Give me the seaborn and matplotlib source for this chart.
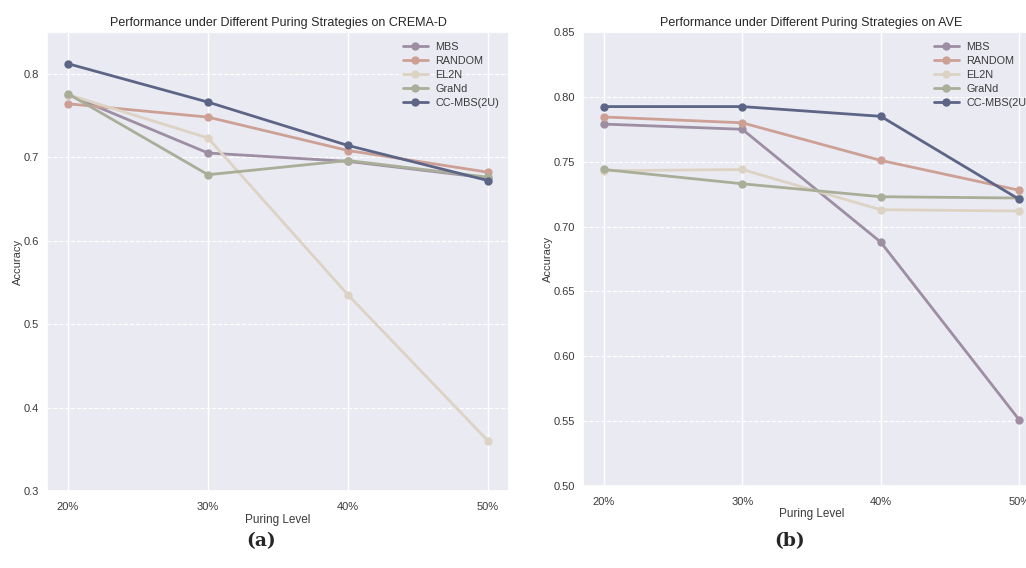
import matplotlib.pyplot as plt
import pandas as pd
import seaborn as sns

levels = ["20%", "30%", "40%", "50%"]
methods = ["MBS", "RANDOM", "EL2N", "GraNd", "CC-MBS(2U)"]

# CREMA-D accuracies
crema_mbs = [0.775, 0.705, 0.695, 0.675]
crema_random = [0.764, 0.748, 0.708, 0.682]
crema_el2n = [0.775, 0.723, 0.535, 0.360]
crema_grand = [0.776, 0.679, 0.696, 0.676]
crema_ccmbs = [0.812, 0.766, 0.714, 0.672]

# AVE accuracies
ave_mbs = [0.779, 0.775, 0.688, 0.551]
ave_random = [0.7845, 0.780, 0.751, 0.728]
ave_el2n = [0.743, 0.744, 0.713, 0.712]
ave_grand = [0.744, 0.733, 0.723, 0.722]
ave_ccmbs = [0.7925, 0.7925, 0.785, 0.721]

colors = ["#9d8ea4", "#cda096", "#ddd3c4", "#aaae98", "#5d6586"]


def to_long(series):
    rows = []
    for name, vals in zip(methods, series):
        for lvl, v in zip(levels, vals):
            rows.append({"Puring Level": lvl, "Accuracy": v, "Method": name})
    return pd.DataFrame(rows)


def draw(ax, df, title, ylim, yticks, fmt):
    sns.lineplot(data=df, x="Puring Level", y="Accuracy", hue="Method",
                 palette=colors, marker="o", markersize=6, markeredgewidth=0,
                 linewidth=2, sort=False, ax=ax)
    ax.set_title(title, fontsize=9, pad=4)
    ax.set_ylim(*ylim)
    ax.set_yticks(yticks)
    ax.set_yticklabels([fmt.format(t) for t in yticks])
    ax.set_xlim(-0.15, 3.15)
    ax.tick_params(labelsize=8, labelcolor="#3a3a3a", length=0)
    ax.tick_params(axis="x", pad=8)
    ax.tick_params(axis="y", pad=6)
    ax.set_xlabel("Puring Level", fontsize=8.5, labelpad=1, color="#3a3a3a")
    ax.set_ylabel("Accuracy", fontsize=8, labelpad=0, color="#3a3a3a")
    ax.yaxis.grid(True, linestyle="--", linewidth=0.8)
    ax.xaxis.grid(True, linestyle="-", linewidth=1.0)
    ax.legend(loc="upper right", frameon=False, fontsize=7.8, title=None,
              handlelength=2.3, labelspacing=0.38, borderaxespad=0.5,
              handletextpad=0.7, labelcolor="#3a3a3a")


sns.set_theme(style="darkgrid")
plt.rcParams["font.family"] = ["Liberation Sans", "DejaVu Sans"]

fig = plt.figure(figsize=(10.26, 5.68), dpi=100)
W, H = 1026, 568
ax1 = fig.add_axes([47 / W, (H - 491) / H, (509 - 47) / W, (491 - 32) / H])
ax2 = fig.add_axes([583 / W, (H - 486) / H, (1040 - 583) / W, (486 - 32) / H])

draw(ax1, to_long([crema_mbs, crema_random, crema_el2n, crema_grand, crema_ccmbs]),
     "Performance under Different Puring Strategies on CREMA-D",
     (0.3, 0.85), [0.3, 0.4, 0.5, 0.6, 0.7, 0.8], "{:.1f}")
draw(ax2, to_long([ave_mbs, ave_random, ave_el2n, ave_grand, ave_ccmbs]),
     "Performance under Different Puring Strategies on AVE",
     (0.5, 0.85), [0.50, 0.55, 0.60, 0.65, 0.70, 0.75, 0.80, 0.85], "{:.2f}")

fig.text(261 / W, 1 - 541 / H, "(a)", ha="center", va="center",
         fontsize=13.5, fontweight="bold", family="DejaVu Serif")
fig.text(790 / W, 1 - 541 / H, "(b)", ha="center", va="center",
         fontsize=13.5, fontweight="bold", family="DejaVu Serif")

fig.savefig("out.png", dpi=100, facecolor="white")
